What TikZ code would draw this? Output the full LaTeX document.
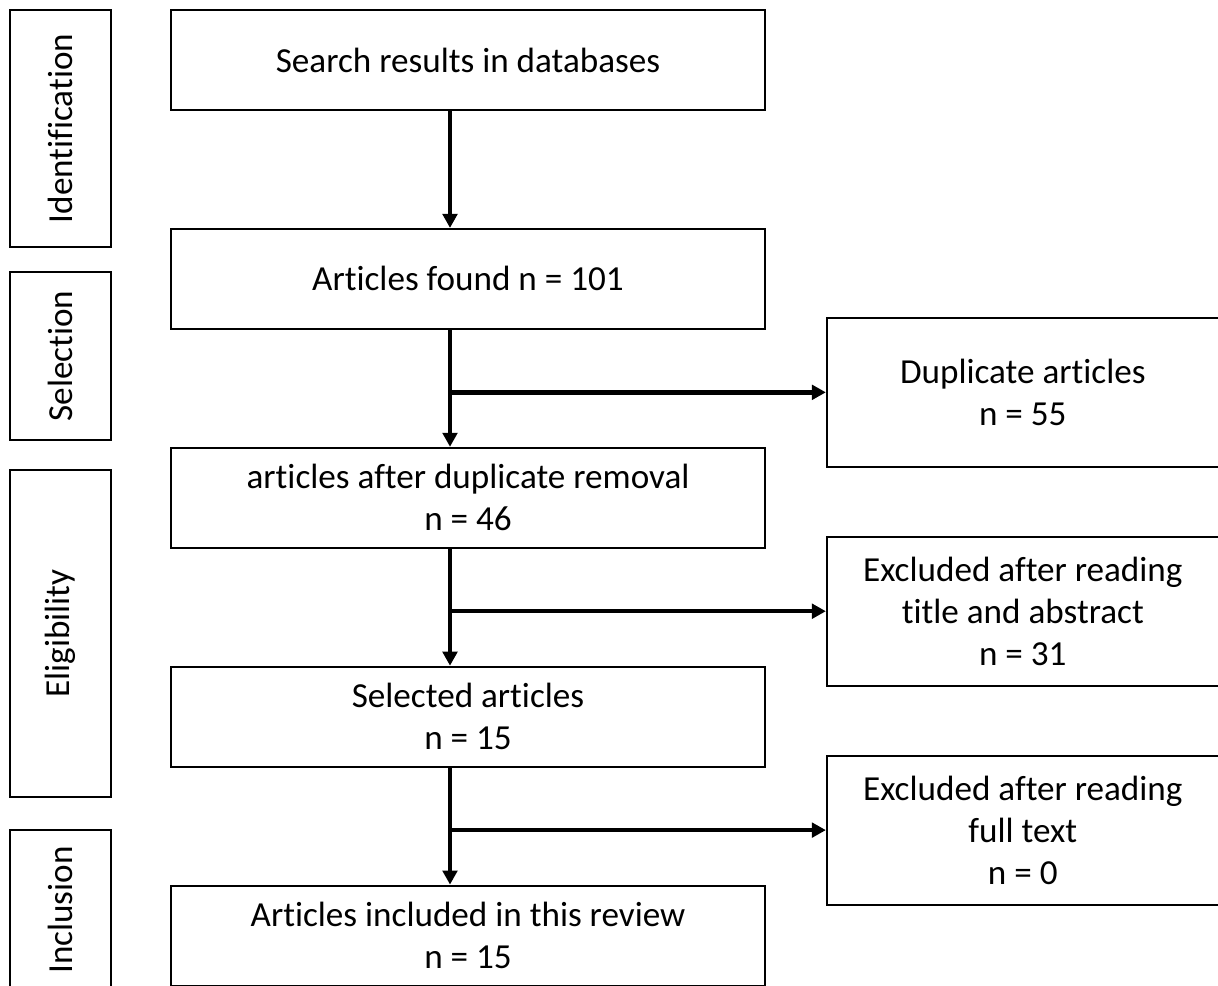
\documentclass[tikz,border=0pt]{standalone}
\usepackage{fontspec}
\setmainfont{Carlito}[RawFeature={-liga;-clig;-calt;-dlig}]
\usetikzlibrary{arrows.meta,positioning,calc}

\begin{document}
\begin{tikzpicture}[x=0.02cm, y=-0.02cm, font=\fontsize{20pt}{24pt}\selectfont, node distance=2.34cm]
\tikzset{
  box/.style  ={draw, line width=1.1pt, align=center, inner sep=0pt,
                minimum width=11.88cm, minimum height=2.0cm},
  side/.style ={draw, line width=1.1pt, align=center, inner sep=0pt,
                minimum width=7.84cm, minimum height=2.98cm},
  phase/.style={draw, line width=1.1pt, rotate=90, inner sep=0pt, minimum height=2.02cm},
  arr/.style={-{Triangle[length=2.8mm,width=2.9mm]}, line width=2.5pt}
}
\useasboundingbox (0,0) rectangle (1218,986);
% phases
\node (ident)[phase, minimum width=4.74cm] at (60.5,128.5){Identification};
\node (selc)[phase, minimum width=3.36cm] at (60.5,356){Selection};
\node (elig)[phase, minimum width=6.54cm] at (60.5,633.5){Eligibility};
\node (inclu)[phase, minimum width=3.2cm] at (60.5,910){Inclusion};
% main flow
\node (search)[box] at (468,60){Search results in databases};
\node (found)[box,below=of search]{Articles found n = 101};
\node (after)[box,below=of found]{articles after duplicate removal\\n = 46};
\node (sel)[box,below=of after]{Selected articles\\n = 15};
\node (incl)[box,below=of sel]{Articles included in this review\\n = 15};
% exclusions
\coordinate (m1) at ($(found.south east)!.5!(after.north east)+(0,4)$);
\coordinate (m2) at ($(after.south east)!.5!(sel.north east)+(0,4)$);
\coordinate (m3) at ($(sel.south east)!.5!(incl.north east)+(0,4)$);
\node (dup)[side,right=1.2cm of m1]{Duplicate articles\\n = 55};
\node (excl1)[side,right=1.2cm of m2]{Excluded after reading\\title and abstract\\n = 31};
\node (excl2)[side,right=1.2cm of m3]{Excluded after reading\\full text\\n = 0};
% arrows
\coordinate (spine) at ([xshift=-3.6mm]search.south);
\foreach \a/\b in {search/found,found/after,after/sel,sel/incl}
  \draw[arr]([xshift=-3.6mm]\a.south) -- ([xshift=-3.6mm]\b.north);
\foreach \b in {dup,excl1,excl2}
  \draw[arr](spine |- \b.west) -- (\b.west);
\end{tikzpicture}
\end{document}
